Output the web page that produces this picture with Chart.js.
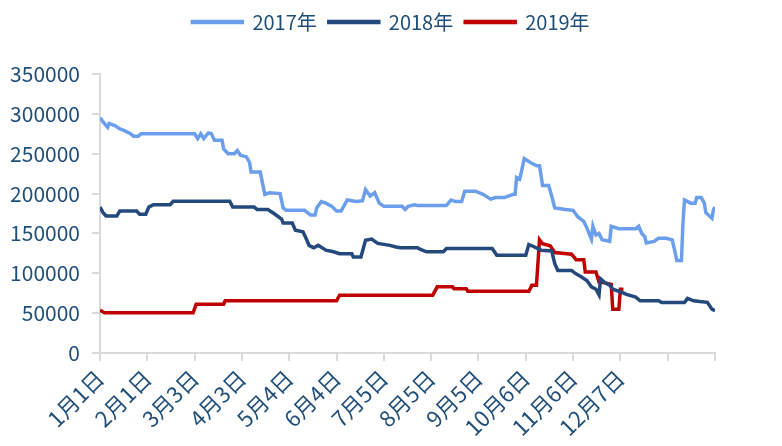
<!DOCTYPE html>
<html>
<head>
<meta charset="utf-8">
<script src="https://cdn.jsdelivr.net/npm/chart.js@4/dist/chart.umd.min.js"></script>
<style>
  html, body { margin: 0; padding: 0; background: #fff; }
  #wrap { width: 782px; height: 446px; }
</style>
</head>
<body>
<div id="wrap"><canvas id="grafico"></canvas></div>
<script>
// eixo x: dias a partir de 1月1日, marcas a cada 31 dias
const tickLabels = ['1月1日', '2月1日', '3月3日', '4月3日', '5月4日', '6月4日', '7月5日',
  '8月5日', '9月5日', '10月6日', '11月6日', '12月7日', ''];

// 2017年
const dias2017 = [0, 2, 5, 6, 10, 13, 16, 20, 22, 25, 27, 62, 64, 66, 68, 71, 73, 75, 80, 81, 84, 88, 90, 92,
  96, 98, 99, 105, 108, 111, 118, 120, 122, 134, 138, 141, 142, 145, 148, 152, 155, 158, 162, 168, 172,
  174, 177, 180, 183, 186, 198, 200, 202, 206, 208, 227, 230, 233, 237, 239, 246, 251, 256, 259, 265,
  268, 271, 272, 273, 275, 276, 278, 282, 286, 288, 290, 294, 296, 298, 305, 310, 313, 317, 319, 322,
  323, 325, 327, 329, 334, 335, 340, 351, 353, 355, 357, 358, 363, 366, 371, 375, 377, 378, 381, 382,
  383, 387, 390, 391, 394, 396, 397, 401, 402, 403];
const valores2017 = [295000, 290000, 283000, 288000, 285000, 281000, 279000, 275000, 272000, 272000, 275000,
  275000, 269000, 275000, 269000, 276000, 275000, 267000, 267000, 256000, 250000, 250000, 254000, 248000,
  246000, 239000, 227000, 227000, 199000, 201000, 200000, 182000, 179000, 179000, 173000, 173000, 182000,
  190000, 188000, 184000, 178000, 178000, 192000, 190000, 191000, 205000, 197000, 201000, 188000, 184000,
  184000, 180000, 184000, 186000, 185000, 185000, 192000, 190000, 190000, 203000, 203000, 199000, 193000,
  195000, 195000, 197000, 199000, 199000, 220000, 218000, 226000, 244000, 239000, 235000, 235000, 210000,
  210000, 197000, 182000, 180000, 179000, 171000, 165000, 157000, 143000, 159000, 148000, 150000, 142000,
  140000, 159000, 156000, 156000, 159000, 150000, 146000, 138000, 140000, 144000, 144000, 142000, 125000,
  116000, 116000, 163000, 192000, 188000, 188000, 195000, 195000, 188000, 176000, 169000, 180000, 183000];

// 2018年
const dias2018 = [0, 2, 4, 11, 13, 24, 26, 30, 32, 35, 46, 48, 85, 87, 101, 103, 110, 114, 119, 120, 126,
  128, 133, 135, 137, 140, 143, 148, 153, 157, 165, 166, 171, 174, 178, 182, 190, 194, 197, 208, 210,
  214, 225, 227, 257, 260, 279, 281, 283, 289, 296, 298, 300, 309, 311, 315, 319, 322, 325, 327, 328,
  331, 334, 336, 342, 345, 351, 354, 366, 368, 383, 385, 389, 393, 398, 401, 403];
const valores2018 = [183000, 176000, 172000, 172000, 178000, 178000, 174000, 174000, 183000, 186000, 186000,
  190500, 190500, 183000, 183000, 180000, 180000, 175000, 168000, 163000, 163000, 154000, 152000, 144000,
  135000, 132000, 135000, 129000, 127000, 124500, 124500, 120500, 120500, 141500, 143000, 137500, 135000,
  133000, 132000, 132000, 130000, 127000, 127000, 131000, 131000, 122500, 122500, 136000, 134500, 129000,
  128000, 112000, 103500, 103500, 100500, 96000, 91000, 83000, 80000, 73000, 93000, 88000, 85000, 80000,
  76000, 73500, 70000, 65500, 65500, 63500, 63500, 68500, 65500, 64500, 63500, 55000, 53000];

// 2019年
const dias2019 = [0, 3, 61, 63, 81, 82, 155, 157, 218, 221, 231, 232, 240, 241, 281, 283, 286, 288, 290,
  295, 298, 309, 312, 317, 318, 325, 327, 331, 335, 336, 340, 341, 343];
const valores2019 = [53500, 50500, 50500, 61000, 61000, 65500, 65500, 72500, 72500, 83000, 83000, 80500,
  80500, 77500, 77500, 85000, 85000, 142000, 137000, 134500, 126000, 124000, 117000, 117000, 101500,
  101500, 89000, 88000, 86000, 55000, 55000, 80000, 80000];

const corTexto = '#1F4E79';
const fonte = "'Noto Sans CJK SC', 'Noto Sans', sans-serif";

function pontos(dias, valores) {
  return dias.map((d, i) => ({ x: d, y: valores[i] }));
}

function serie(label, dias, valores, cor) {
  return {
    label: label,
    data: pontos(dias, valores),
    borderColor: cor,
    backgroundColor: cor,
    borderWidth: 3.5,
    pointRadius: 0,
    tension: 0,
    fill: false
  };
}

// espaço extra abaixo da legenda
const espacoLegenda = {
  id: 'espacoLegenda',
  beforeInit(chart) {
    const fitOriginal = chart.legend.fit;
    chart.legend.fit = function() {
      fitOriginal.call(this);
      this.height += 32;
    };
  }
};

const ctx = document.getElementById('grafico').getContext('2d');

new Chart(ctx, {
  type: 'line',
  data: {
    datasets: [
      serie('2017年', dias2017, valores2017, '#6C9FEB'),
      serie('2018年', dias2018, valores2018, '#24497D'),
      serie('2019年', dias2019, valores2019, '#C00000')
    ]
  },
  options: {
    responsive: true,
    maintainAspectRatio: false,
    animation: false,
    layout: { padding: 0 },
    plugins: {
      tooltip: { enabled: false },
      legend: {
        position: 'top',
        labels: {
          boxWidth: 50,
          boxHeight: 1,
          padding: 12,
          color: corTexto,
          font: { family: fonte, size: 20 }
        }
      }
    },
    scales: {
      x: {
        type: 'linear',
        min: 0,
        max: 403,
        grid: { display: true, drawOnChartArea: false, drawTicks: true, tickLength: 8, color: '#D9D9D9', lineWidth: 2 },
        border: { display: true, color: '#D9D9D9', width: 2 },
        ticks: {
          stepSize: 31,
          autoSkip: false,
          maxRotation: 45,
          minRotation: 45,
          padding: 4,
          color: corTexto,
          font: { family: fonte, size: 22 },
          callback: (v) => tickLabels[Math.round(v / 31)] ?? ''
        },
        afterFit: (s) => { s.height = 93; }
      },
      y: {
        min: 0,
        max: 350000,
        grid: { display: true, drawOnChartArea: false, drawTicks: true, tickLength: 8, color: '#D9D9D9', lineWidth: 2 },
        border: { display: true, color: '#D9D9D9', width: 2 },
        ticks: {
          stepSize: 50000,
          padding: 12,
          color: corTexto,
          font: { family: fonte, size: 21 },
          callback: (v) => String(v)
        },
        afterFit: (s) => { s.width = 100; }
      },
      direita: {
        position: 'right',
        display: true,
        grid: { display: false },
        border: { display: false },
        ticks: { display: false },
        afterFit: (s) => { s.width = 67; }
      }
    }
  },
  plugins: [espacoLegenda]
});
</script>
</body>
</html>
